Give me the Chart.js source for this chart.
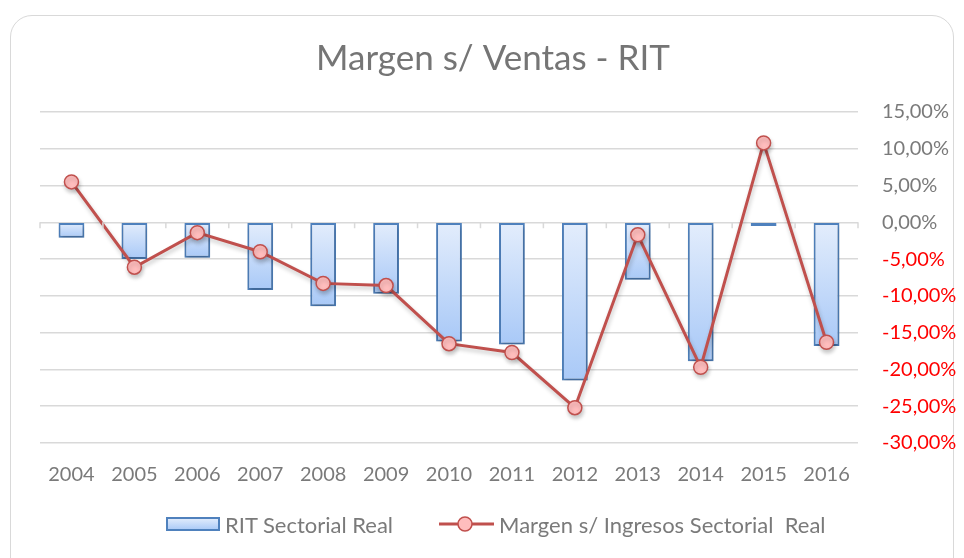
<!DOCTYPE html>
<html>
<head>
<meta charset="utf-8">
<script src="https://cdn.jsdelivr.net/npm/chart.js@4"></script>
<style>
  html, body { margin: 0; padding: 0; background: #fff; }
  #frame {
    position: absolute; left: 10px; top: 15px; width: 944px; height: 570px;
    border: 1.5px solid #d9d9d9; border-radius: 22px; box-sizing: border-box;
  }
  #wrap { position: absolute; left: 0; top: 0; width: 964px; height: 558px; }
  #legend {
    position: absolute; left: 166px; top: 509px; height: 30px;
    display: flex; align-items: center;
    font-family: Lato, "Open Sans", sans-serif; font-size: 22px; color: #7a7a7a;
    white-space: pre;
  }
  #legend .item { display: flex; align-items: center; }
  #legend .item + .item { margin-left: 46px; }
  #legend canvas { margin-right: 5px; }
</style>
</head>
<body>
<div id="frame"></div>
<div id="wrap"><canvas id="chart"></canvas></div>
<div id="legend"></div>
<script>
const years = ['2004', '2005', '2006', '2007', '2008', '2009', '2010', '2011', '2012', '2013', '2014', '2015', '2016'];
const ritSectorial = [-2.1, -5.0, -4.8, -9.2, -11.4, -9.7, -16.2, -16.6, -21.5, -7.8, -18.9, -0.5, -16.8];
const margenIngresos = [5.5, -6.1, -1.4, -4.0, -8.3, -8.6, -16.5, -17.7, -25.2, -1.7, -19.7, 10.8, -16.3];
const yTicks = [-30, -25, -20, -15, -10, -5, 0, 5, 10, 15];

const FONT = 'Lato, "Open Sans", sans-serif';
const BAR_TOP = '#e3edfc', BAR_BOTTOM = '#a9c9f7', BAR_EDGE = '#4f81bd';
const LINE = '#c0504d', DOT = '#ffbdbd';

// legend swatches
function barSwatch() {
    const c = document.createElement('canvas');
    c.width = 54; c.height = 16;
    const g = c.getContext('2d');
    const grad = g.createLinearGradient(0, 2, 0, 14);
    grad.addColorStop(0, BAR_TOP);
    grad.addColorStop(1, BAR_BOTTOM);
    g.fillStyle = grad;
    g.fillRect(1, 2, 52, 12);
    g.strokeStyle = BAR_EDGE;
    g.lineWidth = 2;
    g.strokeRect(1, 2, 52, 12);
    return c;
}
function lineSwatch() {
    const c = document.createElement('canvas');
    c.width = 55; c.height = 18;
    const g = c.getContext('2d');
    g.strokeStyle = LINE;
    g.lineWidth = 3;
    g.beginPath(); g.moveTo(0, 9); g.lineTo(55, 9); g.stroke();
    g.fillStyle = DOT;
    g.lineWidth = 1.5;
    g.beginPath(); g.arc(26, 9, 7, 0, Math.PI * 2); g.fill(); g.stroke();
    return c;
}

const axisTicks = {
    id: 'axisTicks',
    afterDatasetsDraw(chart) {
        // small ticks under the zero line at category boundaries
        const { ctx, scales: { x, y } } = chart;
        const y0 = y.getPixelForValue(0);
        ctx.save();
        ctx.strokeStyle = '#d9d9d9';
        ctx.lineWidth = 1.5;
        ctx.beginPath();
        for (let i = 0; i <= years.length; i++) {
            const px = x.getPixelForValue(i - 0.5);
            ctx.moveTo(px, y0);
            ctx.lineTo(px, y0 + 6);
        }
        ctx.stroke();
        ctx.restore();
    }
};

const shadows = {
    id: 'shadows',
    beforeDatasetDraw(chart) {
        const ctx = chart.ctx;
        ctx.save();
        ctx.shadowColor = 'rgba(0,0,0,0.22)';
        ctx.shadowBlur = 4;
        ctx.shadowOffsetY = 3;
        ctx.shadowOffsetX = 1;
    },
    afterDatasetDraw(chart) {
        chart.ctx.restore();
    }
};

const ctx = document.getElementById('chart').getContext('2d');
const chart = new Chart(ctx, {
    data: {
        labels: years,
        datasets: [
            {
                type: 'line',
                label: 'Margen s/ Ingresos Sectorial  Real',
                data: margenIngresos,
                borderColor: LINE,
                borderWidth: 3,
                pointRadius: 7,
                pointBorderWidth: 1.5,
                pointBackgroundColor: DOT,
                pointBorderColor: LINE,
                tension: 0,
                order: 0
            },
            {
                type: 'bar',
                label: 'RIT Sectorial Real',
                data: ritSectorial,
                backgroundColor: (context) => {
                    const chart = context.chart;
                    const y = chart.scales.y;
                    if (!y || context.parsed === undefined) return '#c6dbfa';
                    const top = y.getPixelForValue(0);
                    const bottom = y.getPixelForValue(context.parsed.y);
                    if (!isFinite(top) || !isFinite(bottom) || top === bottom) return '#c6dbfa';
                    const grad = chart.ctx.createLinearGradient(0, top, 0, bottom);
                    grad.addColorStop(0, BAR_TOP);
                    grad.addColorStop(1, BAR_BOTTOM);
                    return grad;
                },
                borderColor: BAR_EDGE,
                borderWidth: 2,
                borderSkipped: false,
                barPercentage: 0.41,
                categoryPercentage: 1,
                order: 1
            }
        ]
    },
    options: {
        responsive: true,
        maintainAspectRatio: false,
        animation: false,
        events: [],
        layout: { padding: { left: 22, right: 0, top: 0, bottom: 59 } },
        scales: {
            x: {
                grid: { display: false },
                border: { display: false },
                ticks: { color: '#7a7a7a', font: { family: FONT, size: 20 }, padding: 12 }
            },
            y: {
                position: 'right',
                min: -30,
                max: 15,
                afterBuildTicks: (scale) => { scale.ticks = yTicks.map(v => ({ value: v })); },
                afterFit: (scale) => { scale.width = 106; },
                grid: { color: '#d9d9d9', lineWidth: 1.5, drawTicks: false },
                border: { display: false },
                ticks: {
                    padding: 24,
                    font: { family: FONT, size: 20 },
                    color: (c) => c.tick.value < 0 ? '#ff0000' : '#7a7a7a',
                    callback: (v) => v.toFixed(2).replace('.', ',') + '%'
                }
            },
            // empty left spacer so the title centres like the reference
            spacer: {
                position: 'left',
                min: -30,
                max: 15,
                afterFit: (scale) => { scale.width = 18; },
                grid: { display: false },
                border: { display: false },
                ticks: { display: false }
            }
        },
        plugins: {
            title: {
                display: true,
                text: 'Margen s/ Ventas - RIT',
                color: '#757575',
                font: { family: FONT, size: 35, weight: 'normal' },
                padding: { top: 38, bottom: 32 }
            },
            legend: { display: false },
            tooltip: { enabled: false }
        }
    },
    plugins: [axisTicks, shadows]
});

// legend in HTML, bars first as in the reference
const legend = document.getElementById('legend');
[chart.data.datasets[1], chart.data.datasets[0]].forEach(ds => {
    const item = document.createElement('div');
    item.className = 'item';
    item.appendChild(ds.type === 'bar' ? barSwatch() : lineSwatch());
    const span = document.createElement('span');
    span.textContent = ds.label;
    item.appendChild(span);
    legend.appendChild(item);
});
</script>
</body>
</html>
